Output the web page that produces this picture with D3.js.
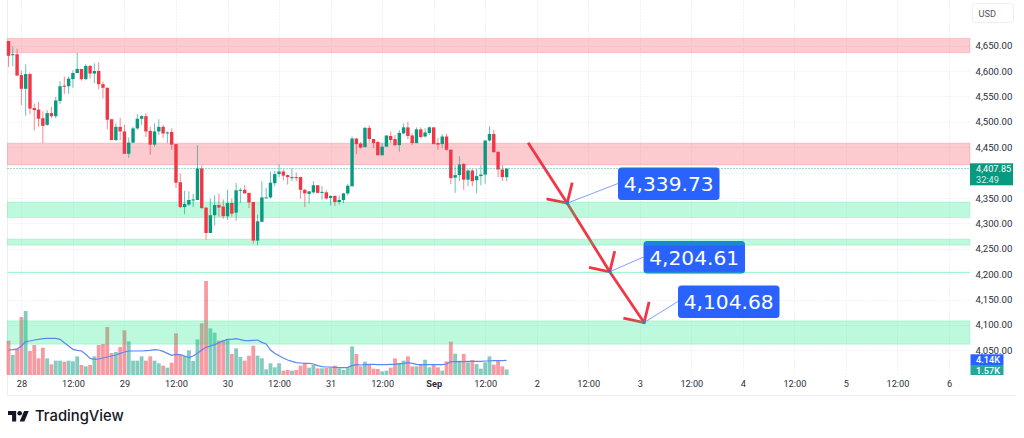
<!DOCTYPE html>
<html><head><meta charset="utf-8">
<script src="https://cdnjs.cloudflare.com/ajax/libs/d3/7.8.5/d3.min.js"></script>
<style>html,body{margin:0;padding:0;background:#fff}svg{display:block}</style>
</head><body><svg id="c" width="1024" height="438"></svg>
<script>
const opens=[4659,4631,4633,4592,4565,4594,4527,4524,4507,4494,4517,4511,4541,4571,4570,4584,4596,4604,4584,4610,4595,4600,4574,4567,4505,4464,4490,4481,4437,4459,4487,4506,4511,4482,4455,4481,4490,4477,4480,4456,4381,4332,4337,4346,4346,4408,4331,4281,4316,4336,4333,4314,4340,4321,4365,4366,4360,4342,4266,4303,4350,4351,4379,4397,4402,4395,4390,4391,4391,4366,4358,4361,4375,4360,4361,4350,4354,4342,4346,4359,4373,4467,4457,4450,4488,4466,4460,4434,4451,4472,4466,4454,4477,4489,4473,4458,4485,4471,4478,4489,4458,4456,4471,4445,4390,4395,4417,4386,4404,4385,4393,4396,4463,4476,4441,4406,4391];
const highs=[4659,4648,4644,4600,4613,4597,4536,4539,4521,4523,4529,4549,4580,4589,4589,4601,4636,4604,4614,4612,4615,4617,4579,4567,4505,4497,4508,4494,4469,4490,4515,4513,4517,4490,4497,4505,4494,4481,4487,4456,4398,4364,4363,4358,4454,4414,4331,4349,4355,4359,4347,4366,4349,4380,4370,4375,4360,4342,4317,4383,4370,4402,4403,4416,4406,4396,4408,4400,4392,4368,4363,4383,4375,4373,4365,4355,4355,4355,4360,4378,4471,4468,4460,4490,4493,4466,4462,4458,4473,4481,4474,4484,4497,4500,4477,4489,4489,4487,4491,4489,4468,4476,4476,4445,4414,4432,4419,4407,4407,4407,4414,4463,4491,4484,4441,4415,4408];
const lows=[4608,4610,4591,4533,4512,4515,4483,4490,4458,4492,4507,4507,4535,4555,4555,4567,4596,4581,4582,4585,4576,4564,4546,4485,4464,4462,4464,4437,4429,4458,4484,4494,4470,4435,4451,4474,4468,4458,4445,4370,4330,4318,4334,4332,4346,4329,4268,4281,4296,4313,4309,4307,4313,4305,4340,4358,4330,4260,4257,4303,4350,4349,4373,4391,4385,4376,4383,4383,4349,4332,4339,4359,4359,4347,4347,4335,4334,4337,4340,4355,4373,4436,4447,4450,4459,4448,4434,4434,4451,4458,4452,4441,4476,4466,4454,4458,4468,4469,4474,4456,4445,4448,4443,4377,4360,4383,4366,4373,4373,4359,4375,4378,4461,4440,4391,4383,4383];
const closes=[4630,4633,4591,4565,4594,4526,4523,4506,4492,4517,4511,4542,4570,4569,4585,4596,4604,4584,4610,4595,4600,4574,4567,4504,4464,4490,4481,4437,4459,4487,4506,4511,4481,4455,4481,4490,4477,4479,4455,4380,4332,4338,4346,4347,4408,4330,4281,4316,4336,4331,4314,4340,4319,4365,4366,4359,4341,4266,4304,4351,4351,4380,4397,4402,4394,4391,4391,4390,4366,4359,4363,4375,4360,4362,4349,4354,4342,4346,4359,4374,4467,4456,4449,4488,4466,4458,4434,4451,4473,4464,4454,4478,4489,4472,4458,4485,4470,4479,4489,4456,4455,4471,4445,4389,4395,4416,4386,4404,4383,4393,4396,4463,4476,4440,4406,4391,4407.85];
const volumes=[9.68,5.64,7.52,16.36,18.05,6.77,8.46,4.70,7.71,4.70,3.01,4.04,4.04,3.76,4.04,3.85,5.26,2.82,2.44,2.82,5.26,8.46,8.74,13.54,6.20,6.49,7.90,12.60,9.49,4.04,4.04,5.26,4.04,5.26,4.04,3.29,2.63,2.07,3.48,11.75,5.73,5.36,6.96,3.95,10.06,14.57,26.51,13.16,11.94,9.68,9.87,10.06,5.92,7.52,5.08,4.04,5.45,8.27,5.45,4.70,1.60,3.29,2.16,3.29,1.22,1.41,1.22,1.41,2.63,3.10,2.07,2.82,1.88,1.88,1.97,2.16,2.63,1.88,1.41,2.16,8.08,5.92,2.44,3.76,2.91,1.79,1.69,1.03,1.22,2.07,4.70,3.38,4.04,5.26,2.44,2.44,2.82,4.32,2.16,2.82,2.16,1.22,3.85,9.40,6.02,4.04,5.92,3.57,4.23,3.10,1.79,3.57,5.26,2.91,4.04,2.44,1.57];
const volumeMA=[7.05,7.14,7.33,8.18,9.40,9.59,9.87,10.06,10.25,10.34,10.34,10.34,10.06,9.12,8.18,7.24,6.96,6.77,5.83,4.70,4.42,4.51,4.79,5.08,5.36,5.64,6.11,6.49,6.77,6.77,6.77,6.77,6.86,6.96,7.14,7.05,6.67,6.11,5.55,5.83,5.73,5.36,4.89,5.36,6.11,7.05,7.80,8.18,8.55,9.12,9.59,10.06,10.06,10.25,9.96,9.68,9.68,9.78,9.87,9.21,8.74,7.05,6.11,5.45,4.79,4.23,3.85,3.48,3.38,3.29,3.29,3.10,2.63,2.35,2.26,2.26,2.16,2.07,2.07,2.16,2.63,2.91,2.82,2.91,3.01,3.01,2.91,2.91,2.91,3.01,3.01,3.20,3.29,3.48,3.29,3.01,2.91,2.91,2.91,2.91,2.91,2.91,3.10,3.76,3.76,3.76,3.76,3.85,3.85,3.85,3.85,3.95,3.95,4.04,4.04,4.04,4.14];
const gridPrices=[4650,4600,4550,4500,4450,4400,4350,4300,4250,4200,4150,4100,4050];
const priceLabels=[4650,4600,4550,4500,4450,4350,4300,4250,4200,4150,4100,4050];
const timeTickIdx=[3,15,27,39,51,63,75,87,99,111,123,135,147,159,171,183,195,207,219];
const timeTickLabels=["28","12:00","29","12:00","30","12:00","31","12:00","Sep","12:00","2","12:00","3","12:00","4","12:00","5","12:00","6"];
const redZones=[[4664.4,4636],[4458,4415]];
const greenZones=[[4342,4311.4],[4269,4257],[4108,4062]];
const levelLine=4203.5;
const arrowIdx=[121,130.1,140,148];
const arrowVal=[4458.8,4339.73,4204.61,4104.68];
const calloutText=["4,339.73","4,204.61","4,104.68"];
const lastPrice=4407.85, countdown="32:49", maLabel="4.14K", volLabel="1.57K";

const RED="#f23645",GREEN="#089981",BLUE="#2962ff",GRID="#f0f3fa";
const UI='Roboto,sans-serif';
const svg=d3.select("#c");
const x=d3.scaleLinear().domain([0,219]).range([8.5,949]);
const y=d3.scaleLinear().domain([4600,4150]).range([71,299.5]);
const v=d3.scaleLinear().domain([0,26.51]).range([375,281]);
const L=7.5,R=970,B=375;
const idx=d3.range(opens.length);
const up=i=>closes[i]>=opens[i];
const fmt=d3.format(",.2f");

// frame
svg.append("path").attr("d",`M${L},0V395.5H1016`).attr("fill","none").attr("stroke","#eceef3");

// grid
svg.append("g").selectAll("line").data(gridPrices).join("line")
 .attr("x1",L).attr("x2",R).attr("y1",d=>Math.round(y(d))+.5).attr("y2",d=>Math.round(y(d))+.5)
 .attr("stroke",GRID).attr("stroke-dasharray","2,1");
svg.append("g").selectAll("line").data(timeTickIdx).join("line")
 .attr("x1",d=>Math.round(x(d))+.5).attr("x2",d=>Math.round(x(d))+.5).attr("y1",0).attr("y2",B)
 .attr("stroke",GRID).attr("stroke-dasharray","2,1");

// price axis
const yAxis=d3.axisRight(y).tickValues(priceLabels).tickSize(0).tickPadding(0).tickFormat(fmt);
const gy=svg.append("g").attr("transform",`translate(975.5,0)`).call(yAxis);
gy.select(".domain").remove();
gy.selectAll("text").attr("font-family",UI).attr("font-size",9.6).attr("fill","#2a2e39").attr("dy","0.32em").attr("x",0);

// time axis
const xAxis=d3.axisBottom(x).tickValues(timeTickIdx).tickSize(0).tickPadding(0).tickFormat((d,i)=>timeTickLabels[i]);
const gx=svg.append("g").attr("transform","translate(0,380)").call(xAxis);
gx.select(".domain").remove();
gx.selectAll("text").attr("font-family",UI).attr("font-size",9.2).attr("fill","#2a2e39")
 .attr("font-weight",(d,i)=>timeTickLabels[i]==="Sep"?700:400);

// volume
const bw=3.8;
svg.append("g").selectAll("rect").data(idx).join("rect")
 .attr("x",i=>x(i)-bw/2).attr("width",bw).attr("y",i=>v(volumes[i])).attr("height",i=>B-v(volumes[i]))
 .attr("fill",i=>up(i)?GREEN:RED).attr("opacity",.5);

// arrows and callouts (under the zones)
const ga=svg.append("g");
const tips=[1,2,3];
ga.append("path").datum(idx.slice(0,4).map(i=>[x(arrowIdx[i]),y(arrowVal[i])]))
 .attr("d",d3.line()).attr("fill","none").attr("stroke",RED).attr("stroke-width",2.8);
tips.forEach(k=>{
 const tx=x(arrowIdx[k]),ty=y(arrowVal[k]);
 ga.append("path").attr("d",`M${tx-20.7},${ty-4.3}L${tx},${ty}L${tx+5},${ty-20.6}`)
  .attr("fill","none").attr("stroke",RED).attr("stroke-width",2.8);
});
const boxes=[[618,167.5],[643.5,241],[678,285.5]];
tips.forEach((k,j)=>{
 const tx=x(arrowIdx[k]),ty=y(arrowVal[k]),[bx,by]=boxes[j];
 ga.append("line").attr("x1",tx).attr("y1",ty).attr("x2",bx).attr("y2",by+16)
  .attr("stroke",BLUE).attr("stroke-opacity",.6).attr("stroke-width",1);
 ga.append("circle").attr("cx",tx).attr("cy",ty).attr("r",1.6).attr("fill",BLUE);
 ga.append("rect").attr("x",bx).attr("y",by).attr("width",101.5).attr("height",32.5).attr("rx",3.5).attr("fill",BLUE);
 ga.append("text").attr("x",bx+50.7).attr("y",by+23.5).attr("text-anchor","middle").attr("fill","#fff")
  .attr("font-family","'DejaVu Sans'").attr("font-size",20.2).text(calloutText[j]);
});

// zones
const zone=(data,col)=>svg.append("g").selectAll("rect").data(data).join("rect")
 .attr("x",L).attr("width",R-L).attr("y",d=>y(d[0])).attr("height",d=>y(d[1])-y(d[0]))
 .attr("fill",col).attr("fill-opacity",.26).attr("stroke",col).attr("stroke-opacity",.18);
zone(redZones,RED); zone(greenZones,"#00e676");
svg.append("line").attr("x1",L).attr("x2",R).attr("y1",y(levelLine)).attr("y2",y(levelLine))
 .attr("stroke","#00e676").attr("stroke-opacity",.45).attr("stroke-width",1);

// volume MA
svg.append("path").datum(idx).attr("fill","none").attr("stroke","#5b86f5").attr("stroke-width",1.2)
 .attr("d",d3.line().x(i=>x(i)).y(i=>v(volumeMA[i])));

// candles
const gc=svg.append("g");
gc.selectAll("line").data(idx).join("line")
 .attr("x1",i=>x(i)).attr("x2",i=>x(i)).attr("y1",i=>y(highs[i])).attr("y2",i=>y(lows[i]))
 .attr("stroke",i=>up(i)?GREEN:RED).attr("stroke-width",1).attr("stroke-opacity",.6);
gc.selectAll("rect").data(idx).join("rect")
 .attr("x",i=>x(i)-1.7).attr("width",3.4)
 .attr("y",i=>y(Math.max(opens[i],closes[i])))
 .attr("height",i=>Math.max(1,Math.abs(y(opens[i])-y(closes[i]))))
 .attr("fill",i=>up(i)?GREEN:RED);

// last price line
svg.append("line").attr("x1",L).attr("x2",R).attr("y1",y(lastPrice)).attr("y2",y(lastPrice))
 .attr("stroke",GREEN).attr("stroke-opacity",.8).attr("stroke-dasharray","1,2");

// right side labels
svg.append("rect").attr("x",970).attr("y",163.3).attr("width",43).attr("height",22).attr("fill",GREEN);
svg.append("text").attr("x",976).attr("y",172).attr("fill","#fff").attr("font-family",UI).attr("font-size",9.2).text(fmt(lastPrice));
svg.append("text").attr("x",976).attr("y",182.5).attr("fill","#d5efe9").attr("font-family",UI).attr("font-size",9.2).text(countdown);
svg.append("rect").attr("x",970.5).attr("y",354.3).attr("width",33).attr("height",10.7).attr("fill",BLUE);
svg.append("rect").attr("x",970.5).attr("y",365).attr("width",33).attr("height",10).attr("fill","#26a69a");
svg.append("text").attr("x",976).attr("y",363).attr("fill","#fff").attr("font-family",UI).attr("font-size",9.2).attr("font-weight",500).text(maLabel);
svg.append("text").attr("x",976).attr("y",374.3).attr("fill","#fff").attr("font-family",UI).attr("font-size",9.2).attr("font-weight",500).text(volLabel);

// currency button
svg.append("rect").attr("x",972.5).attr("y",3.5).attr("width",41).attr("height",19).attr("rx",3).attr("fill","#fff").attr("stroke","#eceef3");
svg.append("text").attr("x",978.5).attr("y",16.5).attr("fill","#50535e").attr("font-family",UI).attr("font-size",9.2).text("USD");

// logo
svg.append("path").attr("transform","translate(8,408.6) scale(.585)")
 .attr("d","M14 22H7V11H0V4h14v18zM28 22h-8l7.5-18h8L28 22z").attr("fill","#131722");
svg.append("circle").attr("transform","translate(8,408.6) scale(.585)").attr("cx",20).attr("cy",8).attr("r",4).attr("fill","#131722");
svg.append("text").attr("x",35).attr("y",421).attr("fill","#131722").attr("font-family","Inter,Roboto,sans-serif").attr("font-weight",500).attr("font-size",14.8).text("TradingView");
</script></body></html>
